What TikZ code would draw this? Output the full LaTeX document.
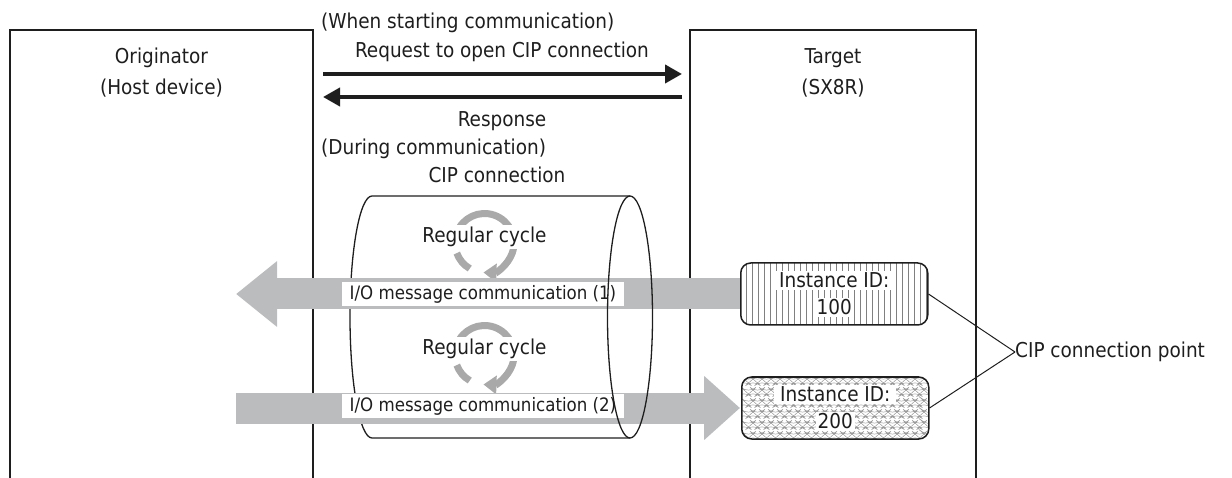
\documentclass[tikz,border=0pt]{standalone}
\usepackage{fontspec}
\setmainfont{DejaVu Sans Condensed}
\usetikzlibrary{arrows.meta, positioning, decorations.pathmorphing}
\definecolor{ink}{HTML}{1E1E1E}
\definecolor{pipe}{HTML}{BBBCBE}
\definecolor{loopgray}{HTML}{A9A9A9}
\setlength{\fboxsep}{2pt}
\newcommand{\idtext}[1]{\colorbox{white}{\hspace{4pt}Instance ID:\hspace{4pt}}\\\colorbox{white}{#1}}

\begin{document}
\begin{tikzpicture}[x=1pt, y=-1pt,
    side/.style={draw=ink, line width=2pt, minimum width=303pt, minimum height=480pt, anchor=north, inner sep=0pt},
    txt/.style={font=\fontsize{20.5pt}{31pt}\selectfont, text=ink, align=center, inner sep=0pt},
    msg/.style={draw=ink, line width=4pt, -{Triangle[length=17pt, width=18pt]}},
    tube/.style={draw=ink, line width=1.3pt},
    loopline/.style={draw=loopgray, line width=7pt},
    looptip/.style={-{Triangle[length=13pt, width=18pt]}},
    pipearrow/.style={draw=pipe, line width=31pt},
    iolabel/.style={txt, font=\fontsize{18.5pt}{22pt}\selectfont, fill=white, inner xsep=8pt, inner ysep=3pt},
    idbox/.style={txt, font=\fontsize{20.5pt}{27pt}\selectfont, draw=ink, line width=1.5pt, rounded corners=10pt, minimum width=187pt, minimum height=62pt, anchor=west},
    callout/.style={draw=ink, line width=1pt}
]
    \useasboundingbox (0,0) rectangle (1232,478);
    \clip (0,0) rectangle (1232,478);

    % Originator and target
    \node[side] (orig) at (161.5,29) {};
    \node[side, minimum width=286pt] (tgt) at (833,29) {};
    \node[txt] (origname) at (161.5,73) {Originator\\(Host device)};
    \node[txt] (tgtname) at (833,73) {Target\\(SX8R)};

    % Opening the connection
    \node[txt, anchor=west] (startnote) at (321,23) {(When starting communication)};
    \node[txt] (reqtext) at (502,52) {Request to open CIP connection};
    \draw[msg, shorten <=9pt, shorten >=7pt] ([yshift=-45pt]orig.north east) -- ([yshift=-45pt]tgt.north west);
    \draw[msg, shorten <=7pt, shorten >=9pt] ([yshift=-68pt]tgt.north west) -- ([yshift=-68pt]orig.north east);
    \node[txt] (resptext) at (502,121) {Response};
    \node[txt, anchor=west] (durnote) at (321,149) {(During communication)};
    \node[txt] (cipname) at (497,175) {CIP connection};

    % Cylinder, back part
    \draw[tube] (630,196) -- (372,196) arc[x radius=22, y radius=121, start angle=-90, end angle=-270] -- (630,438);

    % Regular cycles
    \coordinate (cyc1) at (484.5,243);
    \coordinate (cyc2) at (484.5,355);
    \foreach \c in {cyc1, cyc2} {
        \draw[loopline, looptip] (\c) ++(-160:29.5) arc[start angle=-160, end angle=92, radius=29.5];
        \draw[loopline] (\c) ++(120:29.5) arc[start angle=120, end angle=160, radius=29.5];
    }
    \node[txt, fill=white, inner sep=2pt] (cyctext1) at (484.5,237) {Regular cycle};
    \node[txt, fill=white, inner sep=2pt] (cyctext2) at (484.5,349) {Regular cycle};

    % I/O message arrows
    \coordinate (p1) at (740,294);
    \coordinate (p2) at (740,408);
    \coordinate (o1) at (236,294);
    \coordinate (o2) at (236,408);
    \draw[pipearrow, -{Triangle[length=41pt, width=63pt]}] (p1) -- (o1);
    \draw[pipearrow, -{Triangle[length=36pt, width=62pt]}] (o2) -- (p2);
    \node[iolabel] (io1) at (483,294) {I/O message communication (1)};
    \node[iolabel] (io2) at (483,406) {I/O message communication (2)};

    % Cylinder, front end
    \draw[tube] (630,317) ellipse[x radius=22.5, y radius=121];

    % Connection points
    \node[idbox, path picture={
        \foreach \i in {1,...,31}
            \draw[gray, line width=0.6pt] ([xshift=\i*6pt]path picture bounding box.south west) -- ([xshift=\i*6pt]path picture bounding box.north west);
    }] (id1) at (p1) {\idtext{100}};
    \node[idbox, path picture={
        \foreach \j in {0,...,5}
            \draw[gray!80, line width=0.5pt, decorate, decoration={zigzag, segment length=9pt, amplitude=2pt}]
                ([yshift=-\j*11pt-4pt]path picture bounding box.north west) -- ([yshift=-\j*11pt-4pt]path picture bounding box.north east);
    }] (id2) at ([xshift=1pt]p2) {\idtext{200}};

    \node[txt, anchor=west] (cpoint) at (1015,352) {CIP connection point};
    \draw[callout] (id1.east) -- (cpoint.west);
    \draw[callout] (id2.east) -- (cpoint.west);
\end{tikzpicture}
\end{document}
